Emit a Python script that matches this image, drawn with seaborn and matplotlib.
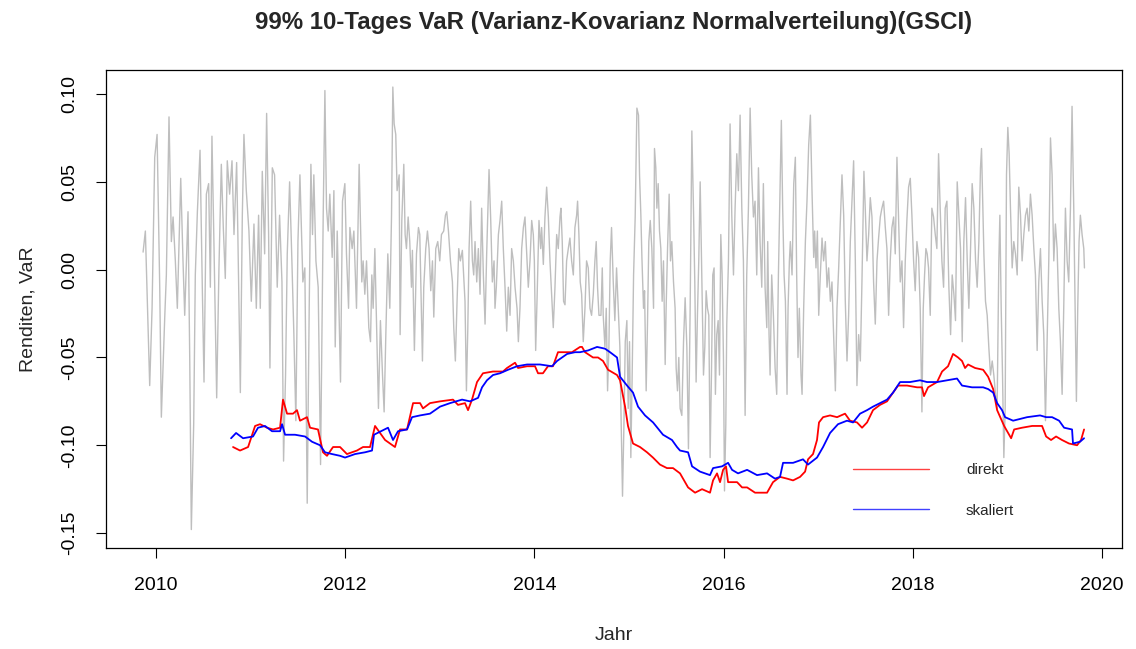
import numpy as np
import pandas as pd
import matplotlib
matplotlib.use("Agg")
import matplotlib.pyplot as plt
import seaborn as sns

title = "99% 10-Tages VaR (Varianz-Kovarianz Normalverteilung)(GSCI)"
x_label = "Jahr"
y_label = "Renditen, VaR"
x_ticks = [2010, 2012, 2014, 2016, 2018, 2020]
y_ticks = [-0.15, -0.10, -0.05, 0.00, 0.05, 0.10]
y_tick_labels = ["-0.15", "-0.10", "-0.05", "0.00", "0.05", "0.10"]
legend_labels = ["direkt", "skaliert"]

# 10-day returns (grey), read as turning points (year, value)
gray_pts = [
    (2009.863, 0.010), (2009.887, 0.022), (2009.909, -0.020), (2009.933, -0.066), (2009.958, -0.022),
    (2009.986, 0.064), (2010.011, 0.077), (2010.039, -0.010), (2010.056, -0.084), (2010.092, -0.027),
    (2010.109, -0.003), (2010.137, 0.087), (2010.162, 0.016), (2010.180, 0.030), (2010.204, 0.005),
    (2010.225, -0.022), (2010.261, 0.052), (2010.285, 0.005), (2010.303, -0.026), (2010.338, 0.033),
    (2010.356, -0.050), (2010.373, -0.148), (2010.398, -0.088), (2010.415, -0.003), (2010.437, 0.033),
    (2010.465, 0.068), (2010.489, -0.010), (2010.507, -0.064), (2010.532, 0.043), (2010.556, 0.049),
    (2010.574, -0.010), (2010.591, 0.076), (2010.613, 0.012), (2010.641, -0.073), (2010.665, 0.001),
    (2010.690, 0.060), (2010.711, 0.024), (2010.732, -0.005), (2010.753, 0.062), (2010.778, 0.043),
    (2010.803, 0.062), (2010.824, 0.020), (2010.852, 0.061), (2010.866, 0.016), (2010.891, -0.070),
    (2010.912, 0.031), (2010.929, 0.077), (2010.954, 0.045), (2010.982, 0.022), (2011.007, -0.018),
    (2011.035, 0.026), (2011.060, -0.022), (2011.084, 0.031), (2011.102, -0.022), (2011.123, 0.056),
    (2011.148, 0.009), (2011.169, 0.089), (2011.190, 0.020), (2011.204, -0.056), (2011.229, 0.058),
    (2011.253, 0.054), (2011.281, -0.010), (2011.306, 0.031), (2011.331, -0.007), (2011.348, -0.109),
    (2011.369, -0.060), (2011.387, 0.009), (2011.412, 0.050), (2011.436, 0.005), (2011.457, -0.037),
    (2011.478, -0.086), (2011.500, 0.016), (2011.521, 0.054), (2011.552, -0.007),
    (2011.573, 0.001), (2011.598, -0.133), (2011.619, -0.022), (2011.637, 0.060), (2011.654, 0.020),
    (2011.668, 0.054), (2011.690, 0.005), (2011.714, -0.010), (2011.739, -0.111), (2011.767, 0.031),
    (2011.785, 0.102), (2011.802, 0.035), (2011.820, 0.022), (2011.837, 0.043), (2011.862, 0.007),
    (2011.880, 0.045), (2011.894, -0.044), (2011.915, 0.022), (2011.929, -0.010), (2011.950, -0.064),
    (2011.971, 0.039), (2011.996, 0.049), (2012.013, 0.009), (2012.035, -0.022), (2012.049, 0.024),
    (2012.073, 0.012), (2012.091, 0.022), (2012.119, -0.022), (2012.147, 0.060), (2012.161, 0.026),
    (2012.175, -0.007), (2012.189, 0.005), (2012.207, -0.014), (2012.225, 0.005), (2012.249, -0.033),
    (2012.267, -0.041), (2012.281, -0.003), (2012.295, -0.022), (2012.313, 0.012), (2012.330, -0.029),
    (2012.351, -0.079), (2012.372, -0.029), (2012.394, -0.060), (2012.411, -0.081), (2012.429, -0.037),
    (2012.450, 0.009), (2012.471, -0.022), (2012.489, 0.030), (2012.503, 0.104), (2012.517, 0.083),
    (2012.534, 0.077), (2012.548, 0.045), (2012.570, 0.054), (2012.580, -0.037), (2012.598, 0.028),
    (2012.619, 0.060), (2012.633, 0.020), (2012.647, 0.012), (2012.665, 0.030), (2012.682, 0.016),
    (2012.700, -0.010), (2012.710, 0.011), (2012.731, -0.046), (2012.753, 0.009), (2012.774, 0.024),
    (2012.788, 0.020), (2012.805, -0.022), (2012.816, -0.052), (2012.830, -0.010), (2012.851, 0.012),
    (2012.869, 0.022), (2012.886, 0.012), (2012.904, -0.012), (2012.922, 0.005), (2012.936, -0.027),
    (2012.957, 0.012), (2012.978, 0.016), (2012.999, 0.005), (2013.017, 0.020), (2013.041, 0.022),
    (2013.059, 0.031), (2013.073, 0.033), (2013.091, 0.022), (2013.112, 0.005), (2013.133, -0.007),
    (2013.147, -0.033), (2013.164, -0.052), (2013.182, -0.018), (2013.200, 0.012), (2013.217, 0.005),
    (2013.238, 0.011),
    (2013.266, -0.018), (2013.281, -0.069), (2013.295, -0.035), (2013.309, 0.012), (2013.326, 0.039),
    (2013.344, 0.005), (2013.358, -0.003), (2013.372, 0.016), (2013.390, -0.007), (2013.407, 0.012),
    (2013.425, -0.014), (2013.442, 0.035), (2013.460, -0.003), (2013.478, -0.031), (2013.495, 0.009),
    (2013.520, 0.057), (2013.538, 0.028), (2013.555, -0.007), (2013.573, 0.005), (2013.583, -0.022),
    (2013.597, -0.010), (2013.619, 0.020), (2013.636, 0.028), (2013.654, 0.039), (2013.671, 0.012),
    (2013.689, -0.010), (2013.707, -0.035), (2013.724, -0.010), (2013.742, -0.026), (2013.759, 0.012),
    (2013.777, 0.005), (2013.795, -0.010), (2013.816, -0.022), (2013.830, -0.041), (2013.847, -0.022),
    (2013.865, 0.012), (2013.883, 0.024), (2013.900, 0.030), (2013.918, 0.009), (2013.935, -0.010),
    (2013.953, 0.005), (2013.971, 0.028), (2013.988, 0.020), (2013.999, 0.005), (2014.013, -0.046),
    (2014.027, -0.018), (2014.048, 0.028), (2014.066, 0.012), (2014.076, 0.024), (2014.094, 0.003),
    (2014.111, 0.030), (2014.129, 0.047), (2014.147, 0.030), (2014.164, 0.005), (2014.182, -0.014),
    (2014.199, -0.033), (2014.217, -0.010), (2014.235, 0.020), (2014.252, 0.012), (2014.270, 0.030),
    (2014.280, 0.035), (2014.294, 0.016), (2014.308, -0.018), (2014.323, -0.020), (2014.340, 0.005),
    (2014.358, 0.012), (2014.375, 0.018), (2014.393, 0.005), (2014.411, -0.003), (2014.428, 0.024),
    (2014.446, 0.031), (2014.456, 0.039), (2014.470, 0.020), (2014.484, -0.007), (2014.499, -0.014),
    (2014.516, -0.041), (2014.534, -0.022), (2014.551, 0.005), (2014.569, 0.001), (2014.587, -0.022),
    (2014.604, -0.026), (2014.622, -0.014), (2014.639, 0.005), (2014.653, 0.016), (2014.667, -0.010),
    (2014.682, -0.026), (2014.703, -0.026), (2014.717, 0.001), (2014.727, -0.026), (2014.745, -0.044),
    (2014.759, -0.022), (2014.773, -0.069), (2014.787, -0.044), (2014.801, 0.005), (2014.815, 0.024),
    (2014.833, -0.007), (2014.850, -0.029), (2014.868, 0.001), (2014.886, -0.022), (2014.903, -0.044),
    (2014.914, -0.079), (2014.931, -0.129), (2014.946, -0.088),
    (2014.960, -0.041), (2014.977, -0.029), (2014.991, -0.079), (2015.005, -0.041), (2015.019, -0.107),
    (2015.033, -0.060), (2015.048, -0.003), (2015.065, 0.030), (2015.083, 0.092), (2015.100, 0.088),
    (2015.111, 0.054), (2015.125, 0.031), (2015.136, 0.007), (2015.153, -0.022), (2015.164, -0.012),
    (2015.181, -0.069), (2015.195, -0.031), (2015.209, 0.016), (2015.224, 0.028), (2015.241, 0.012),
    (2015.259, -0.022), (2015.269, 0.069), (2015.283, 0.058), (2015.294, 0.035), (2015.308, 0.049),
    (2015.322, 0.022), (2015.336, 0.012), (2015.350, -0.018), (2015.364, 0.005), (2015.382, -0.054),
    (2015.392, -0.022), (2015.407, 0.012), (2015.424, 0.043), (2015.438, 0.005), (2015.452, 0.016),
    (2015.470, -0.007), (2015.487, -0.022), (2015.498, -0.056), (2015.512, -0.069), (2015.526, -0.050),
    (2015.540, -0.079), (2015.558, -0.083), (2015.576, -0.041), (2015.593, -0.016), (2015.611, -0.044),
    (2015.628, -0.102), (2015.646, -0.022), (2015.664, 0.079), (2015.681, 0.035), (2015.695, -0.007),
    (2015.709, -0.064), (2015.723, -0.026), (2015.737, 0.005), (2015.752, 0.050), (2015.769, -0.003),
    (2015.787, -0.060), (2015.801, -0.044), (2015.815, -0.012), (2015.829, -0.022), (2015.843, -0.026),
    (2015.857, -0.107), (2015.871, -0.060), (2015.885, -0.003), (2015.899, 0.001), (2015.913, -0.071),
    (2015.927, -0.037), (2015.942, -0.029), (2015.956, -0.060), (2015.970, 0.020), (2015.984, -0.003),
    (2015.998, -0.050), (2016.009, -0.126), (2016.023, -0.088), (2016.033, -0.031), (2016.051, 0.005),
    (2016.068, 0.083), (2016.086, 0.031), (2016.104, -0.003), (2016.121, 0.035), (2016.139, 0.066),
    (2016.156, 0.045), (2016.174, 0.088), (2016.192, 0.035), (2016.209, 0.005), (2016.227, -0.083),
    (2016.244, -0.003), (2016.262, 0.035), (2016.280, 0.092), (2016.297, 0.054), (2016.315, 0.030),
    (2016.332, 0.039), (2016.350, -0.003), (2016.368, 0.058), (2016.385, 0.016), (2016.403, -0.010),
    (2016.420, 0.049), (2016.438, -0.010), (2016.456, -0.033), (2016.466, 0.016), (2016.480, -0.037),
    (2016.491, -0.060), (2016.508, -0.003), (2016.526, -0.026), (2016.544, -0.056), (2016.561, -0.071),
    (2016.579, -0.003), (2016.596, 0.045), (2016.610, 0.085), (2016.624, 0.035), (2016.639, -0.003),
    (2016.653, -0.018),
    (2016.670, -0.071), (2016.681, -0.022), (2016.695, 0.005), (2016.705, 0.016), (2016.723, -0.003),
    (2016.741, 0.049), (2016.758, 0.064), (2016.772, -0.003), (2016.786, -0.050), (2016.800, -0.022),
    (2016.818, -0.060), (2016.829, -0.071), (2016.846, -0.022), (2016.864, 0.016), (2016.881, 0.039),
    (2016.899, 0.071), (2016.917, 0.088), (2016.934, 0.045), (2016.952, 0.007), (2016.962, 0.022),
    (2016.976, 0.001), (2016.991, 0.022), (2017.005, -0.026), (2017.022, -0.003), (2017.040, 0.018),
    (2017.057, 0.005), (2017.075, 0.016), (2017.093, -0.010), (2017.110, 0.001), (2017.128, -0.018),
    (2017.145, -0.007), (2017.163, -0.039), (2017.181, -0.069), (2017.198, -0.022), (2017.216, 0.001),
    (2017.233, 0.026), (2017.251, 0.054), (2017.269, 0.031), (2017.286, -0.018), (2017.304, -0.052),
    (2017.321, -0.026), (2017.339, 0.016), (2017.357, 0.039), (2017.374, 0.062), (2017.392, 0.005),
    (2017.409, -0.066), (2017.427, -0.037), (2017.445, -0.052), (2017.462, -0.007), (2017.483, 0.056),
    (2017.497, 0.035), (2017.515, 0.005), (2017.533, 0.020), (2017.550, 0.041), (2017.568, 0.030),
    (2017.585, -0.007), (2017.603, -0.031), (2017.621, 0.005), (2017.638, 0.018), (2017.656, 0.030),
    (2017.673, 0.035), (2017.691, 0.039), (2017.709, 0.024), (2017.726, 0.012), (2017.744, -0.026),
    (2017.761, 0.005), (2017.779, 0.024), (2017.797, 0.030), (2017.814, 0.009), (2017.832, 0.064),
    (2017.849, 0.030), (2017.867, -0.007), (2017.885, 0.005), (2017.902, -0.033), (2017.920, 0.005),
    (2017.937, 0.028), (2017.955, 0.047), (2017.973, 0.052), (2017.990, 0.031), (2018.008, 0.005),
    (2018.025, -0.012), (2018.043, 0.016), (2018.061, 0.007), (2018.078, -0.022), (2018.096, -0.081),
    (2018.110, -0.022), (2018.124, -0.003), (2018.138, 0.012), (2018.152, 0.009), (2018.166, 0.001),
    (2018.184, -0.026), (2018.201, 0.035), (2018.219, 0.030), (2018.237, 0.020), (2018.254, 0.012),
    (2018.272, 0.066), (2018.289, 0.035), (2018.307, 0.005), (2018.325, -0.010), (2018.342, 0.035),
    (2018.360, 0.039),
    (2018.381, -0.010), (2018.399, -0.037), (2018.416, -0.003), (2018.434, -0.014), (2018.451, -0.029),
    (2018.469, 0.050), (2018.487, 0.031), (2018.504, 0.012), (2018.522, -0.041), (2018.539, 0.016),
    (2018.557, 0.041), (2018.575, 0.005), (2018.592, -0.022), (2018.610, 0.012), (2018.627, 0.049),
    (2018.645, 0.035), (2018.663, 0.005), (2018.680, -0.010), (2018.698, 0.016), (2018.715, 0.058),
    (2018.726, 0.069), (2018.740, 0.035), (2018.751, 0.009), (2018.768, -0.018), (2018.786, -0.026),
    (2018.803, -0.044), (2018.821, -0.060), (2018.839, -0.052), (2018.856, -0.060), (2018.874, -0.071),
    (2018.891, -0.079), (2018.909, 0.005), (2018.920, 0.031), (2018.934, -0.022), (2018.948, -0.060),
    (2018.962, -0.107), (2018.976, -0.079), (2018.990, 0.054), (2019.004, 0.081), (2019.018, 0.066),
    (2019.032, 0.035), (2019.050, 0.001), (2019.067, 0.016), (2019.085, 0.009), (2019.103, -0.003),
    (2019.120, 0.047), (2019.138, 0.031), (2019.155, 0.005), (2019.173, 0.020), (2019.191, 0.031),
    (2019.208, 0.035), (2019.226, 0.022), (2019.243, 0.043), (2019.261, 0.031), (2019.279, 0.012),
    (2019.296, -0.003), (2019.314, -0.046), (2019.331, -0.007), (2019.349, 0.012), (2019.367, -0.018),
    (2019.384, -0.037), (2019.402, -0.086), (2019.419, -0.041), (2019.437, 0.005), (2019.455, 0.075),
    (2019.472, 0.054), (2019.490, 0.005), (2019.507, 0.026), (2019.525, 0.012), (2019.543, -0.022),
    (2019.560, -0.041), (2019.578, -0.071), (2019.595, -0.022), (2019.613, 0.035), (2019.631, 0.005),
    (2019.648, -0.007), (2019.666, 0.035), (2019.683, 0.093), (2019.701, 0.035), (2019.715, -0.022),
    (2019.729, -0.075), (2019.743, -0.022), (2019.757, 0.016), (2019.771, 0.031), (2019.789, 0.020),
    (2019.807, 0.012), (2019.814, 0.001),
]

# VaR "direkt" (red)
red_pts = [
    (2010.814, -0.101), (2010.888, -0.103), (2010.973, -0.101), (2011.047, -0.089), (2011.099, -0.088),
    (2011.173, -0.090), (2011.237, -0.091), (2011.311, -0.090), (2011.342, -0.074), (2011.385, -0.082),
    (2011.448, -0.082), (2011.490, -0.080), (2011.522, -0.086), (2011.596, -0.084), (2011.628, -0.090),
    (2011.712, -0.091), (2011.765, -0.104), (2011.807, -0.106), (2011.871, -0.101), (2011.945, -0.101),
    (2012.018, -0.105), (2012.124, -0.103), (2012.188, -0.101), (2012.262, -0.101), (2012.315, -0.089),
    (2012.368, -0.093), (2012.421, -0.097), (2012.526, -0.101), (2012.579, -0.091), (2012.653, -0.091),
    (2012.717, -0.076), (2012.791, -0.076), (2012.822, -0.079), (2012.896, -0.076), (2013.002, -0.075),
    (2013.139, -0.074), (2013.192, -0.077), (2013.266, -0.076), (2013.298, -0.080), (2013.340, -0.074),
    (2013.393, -0.064), (2013.456, -0.059), (2013.562, -0.058), (2013.668, -0.058), (2013.710, -0.056),
    (2013.795, -0.053), (2013.827, -0.056), (2013.922, -0.055), (2014.006, -0.055), (2014.038, -0.059),
    (2014.090, -0.059), (2014.143, -0.055), (2014.196, -0.055), (2014.249, -0.047), (2014.302, -0.047),
    (2014.397, -0.047), (2014.482, -0.044), (2014.503, -0.044), (2014.535, -0.047), (2014.619, -0.050),
    (2014.672, -0.050), (2014.725, -0.052), (2014.778, -0.057), (2014.873, -0.060), (2014.905, -0.063),
    (2014.958, -0.078), (2014.989, -0.089), (2015.042, -0.099), (2015.116, -0.101), (2015.190, -0.104),
    (2015.253, -0.107), (2015.327, -0.111), (2015.401, -0.113), (2015.465, -0.113), (2015.539, -0.116),
    (2015.560, -0.118), (2015.624, -0.124), (2015.698, -0.127), (2015.772, -0.125), (2015.856, -0.127),
    (2015.888, -0.120), (2015.930, -0.116), (2015.962, -0.121), (2015.994, -0.114), (2016.025, -0.112),
    (2016.047, -0.121), (2016.142, -0.121), (2016.195, -0.124), (2016.248, -0.124), (2016.332, -0.127),
    (2016.459, -0.127), (2016.522, -0.121), (2016.596, -0.118), (2016.670, -0.119), (2016.734, -0.120),
    (2016.808, -0.118), (2016.861, -0.115), (2016.892, -0.108), (2016.945, -0.105), (2016.987, -0.097),
    (2017.008, -0.087), (2017.051, -0.084), (2017.125, -0.083), (2017.199, -0.084), (2017.283, -0.082),
    (2017.336, -0.086), (2017.410, -0.087), (2017.463, -0.090), (2017.516, -0.087), (2017.579, -0.080),
    (2017.653, -0.077), (2017.727, -0.075), (2017.791, -0.070), (2017.844, -0.066), (2017.939, -0.066),
    (2018.045, -0.067), (2018.097, -0.067), (2018.118, -0.072), (2018.161, -0.067), (2018.256, -0.064),
    (2018.309, -0.058), (2018.372, -0.055), (2018.425, -0.048), (2018.478, -0.050), (2018.520, -0.052),
    (2018.552, -0.056), (2018.584, -0.054), (2018.658, -0.056), (2018.743, -0.057), (2018.796, -0.061),
    (2018.849, -0.068), (2018.891, -0.080), (2018.965, -0.089), (2019.039, -0.096), (2019.071, -0.091),
    (2019.155, -0.090), (2019.261, -0.089), (2019.366, -0.089), (2019.409, -0.095), (2019.461, -0.097),
    (2019.514, -0.095), (2019.577, -0.097), (2019.651, -0.099), (2019.736, -0.100), (2019.778, -0.097),
    (2019.810, -0.091),
]

# VaR "skaliert" (blue)
blue_pts = [
    (2010.793, -0.096), (2010.846, -0.093), (2010.920, -0.096), (2011.025, -0.095), (2011.078, -0.090),
    (2011.152, -0.089), (2011.226, -0.092), (2011.311, -0.092), (2011.332, -0.088), (2011.364, -0.094),
    (2011.469, -0.094), (2011.575, -0.095), (2011.649, -0.098), (2011.734, -0.100), (2011.786, -0.104),
    (2011.860, -0.105), (2011.945, -0.106), (2011.998, -0.107), (2012.104, -0.105), (2012.209, -0.104),
    (2012.283, -0.103), (2012.304, -0.094), (2012.452, -0.090), (2012.505, -0.097), (2012.558, -0.092),
    (2012.653, -0.091), (2012.706, -0.084), (2012.791, -0.083), (2012.896, -0.082), (2013.002, -0.078),
    (2013.108, -0.076), (2013.235, -0.074), (2013.319, -0.075), (2013.404, -0.073), (2013.446, -0.067),
    (2013.498, -0.063), (2013.562, -0.060), (2013.636, -0.059), (2013.721, -0.057), (2013.816, -0.055),
    (2013.922, -0.054), (2014.059, -0.054), (2014.186, -0.055), (2014.239, -0.052), (2014.345, -0.048),
    (2014.429, -0.047), (2014.482, -0.047), (2014.567, -0.046), (2014.662, -0.044), (2014.746, -0.045),
    (2014.799, -0.047), (2014.873, -0.050), (2014.905, -0.061), (2014.979, -0.066), (2015.042, -0.070),
    (2015.095, -0.078), (2015.169, -0.083), (2015.254, -0.087), (2015.359, -0.094), (2015.454, -0.097),
    (2015.507, -0.101), (2015.539, -0.103), (2015.624, -0.104), (2015.666, -0.112), (2015.750, -0.115),
    (2015.856, -0.117), (2015.888, -0.113), (2015.983, -0.112), (2016.047, -0.110), (2016.089, -0.114),
    (2016.152, -0.116), (2016.248, -0.114), (2016.353, -0.117), (2016.459, -0.116), (2016.543, -0.119),
    (2016.596, -0.118), (2016.628, -0.110), (2016.734, -0.110), (2016.839, -0.108), (2016.892, -0.111),
    (2016.987, -0.107), (2017.051, -0.101), (2017.125, -0.093), (2017.209, -0.088), (2017.304, -0.086),
    (2017.368, -0.087), (2017.442, -0.082), (2017.516, -0.080), (2017.579, -0.078), (2017.653, -0.076),
    (2017.727, -0.074), (2017.791, -0.070), (2017.865, -0.064), (2017.970, -0.064), (2018.076, -0.063),
    (2018.150, -0.064), (2018.256, -0.064), (2018.362, -0.063), (2018.467, -0.062), (2018.520, -0.066),
    (2018.626, -0.067), (2018.743, -0.067), (2018.796, -0.068), (2018.849, -0.070), (2018.891, -0.076),
    (2018.943, -0.080), (2018.975, -0.084), (2019.060, -0.086), (2019.208, -0.084), (2019.345, -0.083),
    (2019.409, -0.084), (2019.472, -0.084), (2019.546, -0.086), (2019.599, -0.090), (2019.683, -0.091),
    (2019.693, -0.099), (2019.767, -0.098), (2019.810, -0.096),
]

gray_df = pd.DataFrame(gray_pts, columns=["Jahr", "Wert"])
red_df = pd.DataFrame(red_pts, columns=["Jahr", "Wert"])
blue_df = pd.DataFrame(blue_pts, columns=["Jahr", "Wert"])

sns.set_style("white")
plt.rcParams["font.family"] = ["Liberation Sans", "DejaVu Sans"]

fig = plt.figure(figsize=(11.36, 6.49), dpi=100)
ax = fig.add_axes([106 / 1136, 1 - 548 / 649, 1016 / 1136, 478 / 649])

sns.lineplot(data=gray_df, x="Jahr", y="Wert", ax=ax, color="#BEBEBE", linewidth=1.0,
             estimator=None, sort=False)
sns.lineplot(data=red_df, x="Jahr", y="Wert", ax=ax, color="#FF0000", linewidth=1.3,
             estimator=None, sort=False, label=legend_labels[0])
sns.lineplot(data=blue_df, x="Jahr", y="Wert", ax=ax, color="#0000FF", linewidth=1.3,
             estimator=None, sort=False, label=legend_labels[1])

ax.set_xlim(2009.471, 2020.211)
ax.set_ylim(-0.1585, 0.1137)
ax.set_xticks(x_ticks)
ax.set_xticklabels([str(t) for t in x_ticks])
ax.set_yticks(y_ticks)
ax.set_yticklabels(y_tick_labels, rotation=90, va="center")

for s in ax.spines.values():
    s.set_visible(True)
    s.set_color("black")
    s.set_linewidth(0.9)

ax.tick_params(axis="both", direction="out", length=7, width=0.8, colors="black",
               labelsize=14, left=True, bottom=True)
ax.tick_params(axis="x", pad=14)
ax.tick_params(axis="y", pad=13)

ax.set_xlabel(x_label, fontsize=14)
ax.set_ylabel(y_label, fontsize=14)
ax.xaxis.set_label_coords(0.5, -(635 - 548) / 478)
ax.xaxis.label.set_va("center")
ax.yaxis.set_label_coords(-(106 - 28) / 1016, 0.5)
ax.yaxis.label.set_va("center")

ax.text(0.5, 1 + (70 - 22) / 478, title, transform=ax.transAxes, ha="center", va="center",
        fontsize=17.3, fontweight="bold")

leg = ax.legend(frameon=False, loc="upper left", bbox_to_anchor=(853 / 1136, 1 - 463 / 649),
                bbox_transform=fig.transFigure, borderaxespad=0, borderpad=0,
                handlelength=5.0, handletextpad=2.4, labelspacing=1.75, fontsize=11)
for line in leg.get_lines():
    line.set_linewidth(1.0)
    line.set_alpha(0.75)

fig.savefig("out.png", dpi=100)
